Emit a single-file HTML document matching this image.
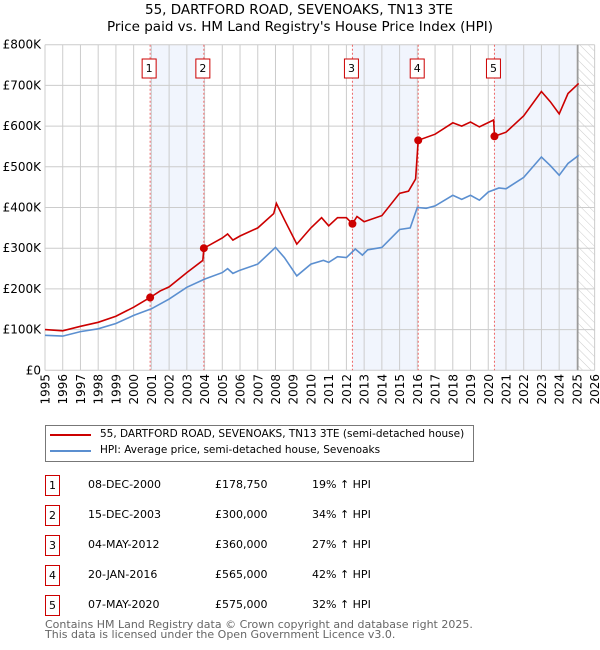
<!DOCTYPE html>
<html><head><meta charset="utf-8"><style>
body{margin:0;width:600px;height:650px;background:#fff;font-family:"DejaVu Sans","Liberation Sans",sans-serif;overflow:hidden;position:relative}
.t{position:absolute;font-size:11px;color:#000;white-space:nowrap}
.box{position:absolute;width:13px;height:19px;border:1px solid #c00;font-size:11px;text-align:center;line-height:19px}
</style></head><body>
<svg id="chart" width="600" height="415" style="position:absolute;left:0;top:0" font-family="DejaVu Sans, Liberation Sans, sans-serif" font-size="12">
<defs><pattern id="hatch" patternUnits="userSpaceOnUse" width="6" height="6" patternTransform="rotate(-45)"><line x1="0" y1="0" x2="0" y2="6" stroke="#ccc" stroke-width="1"/></pattern></defs>
<text x="299" y="14" text-anchor="middle" font-size="13.5">55, DARTFORD ROAD, SEVENOAKS, TN13 3TE</text>
<text x="300" y="31" text-anchor="middle" font-size="13.5">Price paid vs. HM Land Registry's House Price Index (HPI)</text>
<g id="g"></g>
</svg>
<div style="position:absolute;left:45px;top:425px;width:427px;height:35px;border:1px solid #777"></div>
<div style="position:absolute;left:50px;top:434px;width:41px;height:2px;background:#c00"></div>
<div class="t" style="left:100px;top:428px;font-size:10.5px">55, DARTFORD ROAD, SEVENOAKS, TN13 3TE (semi-detached house)</div>
<div style="position:absolute;left:50px;top:450px;width:41px;height:2px;background:#5b8fd0"></div>
<div class="t" style="left:100px;top:444px;font-size:10.5px">HPI: Average price, semi-detached house, Sevenoaks</div>
<div id="tbl"></div>
<div class="t" style="left:45px;top:620px;color:#666;line-height:10px">Contains HM Land Registry data © Crown copyright and database right 2025.<br>This data is licensed under the Open Government Licence v3.0.</div>
<script>
const hpiYears=[1995,1996,1997,1998,1999,2000,2001,2002,2003,2004,2005,2005.3,2005.6,2006,2007,2008,2008.5,2009.2,2010,2010.7,2011,2011.5,2012,2012.5,2012.9,2013.2,2014,2015,2015.6,2016,2016.5,2017,2018,2018.5,2019,2019.5,2020,2020.6,2021,2022,2023,2023.5,2024,2024.5,2025.1];
const hpiValues=[86,84,95,102,115,135,151,175,204,224,240,250,238,246,261,302,277,232,261,270,265,279,277,298,283,296,302,346,350,400,398,404,430,420,430,418,438,448,446,474,524,503,479,508,528];
const priceYears=[1995,1996,1997,1998,1999,2000,2000.93,2001.5,2002,2003,2003.9,2003.96,2005,2005.3,2005.6,2006,2007,2007.9,2008.05,2008.5,2009.2,2010,2010.6,2011,2011.5,2012,2012.34,2012.6,2013,2014,2015,2015.5,2015.9,2016.05,2017,2018,2018.5,2019,2019.5,2020.3,2020.35,2021,2022,2023,2023.5,2024,2024.5,2025.1];
const priceValues=[100,97,108,118,133,155,178.75,195,205,240,270,300,325,335,320,330,350,385,410,370,310,350,375,355,375,375,360,378,365,380,435,440,470,565,580,608,600,610,598,615,575,585,625,685,660,630,680,705];
const saleYears=[2000.93,2003.96,2012.34,2016.05,2020.35];
const saleValues=[178.75,300,360,565,575];
const saleLabels=["1","2","3","4","5"];
const saleDates=["08-DEC-2000","15-DEC-2003","04-MAY-2012","20-JAN-2016","07-MAY-2020"];
const salePrices=["£178,750","£300,000","£360,000","£565,000","£575,000"];
const saleHpi=["19% ↑ HPI","34% ↑ HPI","27% ↑ HPI","42% ↑ HPI","32% ↑ HPI"];
const yTicks=[0,100,200,300,400,500,600,700,800];
const yTickLabels=["£0","£100K","£200K","£300K","£400K","£500K","£600K","£700K","£800K"];
const dataEnd=2025.05;
const X=y=>45+(y-1995)*17.73, Y=v=>370.3-v*0.407;
const g=document.getElementById('g'),NS='http://www.w3.org/2000/svg';
function mk(t,a,p){const e=document.createElementNS(NS,t);for(const k in a)e.setAttribute(k,a[k]);(p||g).appendChild(e);return e;}
[[0,1],[2,3]].forEach(([a,b])=>{const r=mk('rect',{x:X(saleYears[a]),y:44.7,width:X(saleYears[b])-X(saleYears[a]),height:325.6,fill:'#eef3fc',opacity:0.8});

});
{const r=mk('rect',{x:X(saleYears[4]),y:44.7,width:X(dataEnd)-X(saleYears[4]),height:325.6,fill:'#eef3fc',opacity:0.8});

}
{const r=mk('rect',{x:X(dataEnd),y:44.7,width:X(2026)-X(dataEnd),height:325.6,fill:'url(#hatch)'});

}
for(let yr=1995;yr<=2026;yr++){const l=mk('line',{x1:X(yr),x2:X(yr),y1:44.7,y2:370.3,stroke:'#ccc'});


const t=mk('text',{x:0,y:0,transform:`translate(${X(yr)+4.5},${374}) rotate(-90)`,'text-anchor':'end'});t.textContent=yr;

}
yTicks.forEach((v,i)=>{const l=mk('line',{x1:45,x2:X(2026),y1:Y(v),y2:Y(v),stroke:'#ccc'});


const t=mk('text',{x:41,y:Y(v)+4,'text-anchor':'end'});t.textContent=yTickLabels[i];

});
{const l=mk('line',{x1:X(dataEnd),x2:X(dataEnd),y1:44.7,y2:370.3,stroke:'#999','stroke-width':1.5});

}
saleYears.forEach((s,i)=>{const l=mk('line',{x1:X(s),x2:X(s),y1:44.7,y2:370.3,stroke:'#e66','stroke-dasharray':'2,2'});


const r=mk('rect',{x:X(s)-8,y:59,width:14,height:19,fill:'#fff',stroke:'#c00'});


const t=mk('text',{x:X(s)-1,y:72,'text-anchor':'middle','font-size':11});t.textContent=saleLabels[i];

});
const pts=(xs,vs)=>xs.map((x,i)=>X(x).toFixed(1)+','+Y(vs[i]).toFixed(1)).join(' ');
{const p=mk('polyline',{points:pts(hpiYears,hpiValues),fill:'none',stroke:'#5b8fd0','stroke-width':1.6});

}
{const p=mk('polyline',{points:pts(priceYears,priceValues),fill:'none',stroke:'#c00','stroke-width':1.6});

}
saleYears.forEach((s,i)=>{const c=mk('circle',{cx:X(s),cy:Y(saleValues[i]),r:4,fill:'#c00'});

});
const tbl=document.getElementById('tbl');
saleLabels.forEach((lab,i)=>{const top=475+i*30;
const b=document.createElement('div');b.className='box';b.style.left='45px';b.style.top=top+'px';b.textContent=lab;

tbl.appendChild(b);
[[saleDates[i],88,'sale-date'],[salePrices[i],215,'sale-price'],[saleHpi[i],312,'sale-hpi-diff']].forEach(([txt,x,n])=>{const d=document.createElement('div');d.className='t';d.style.left=x+'px';d.style.top=(top+3)+'px';d.textContent=txt;

tbl.appendChild(d);});});
</script>
</body></html>
